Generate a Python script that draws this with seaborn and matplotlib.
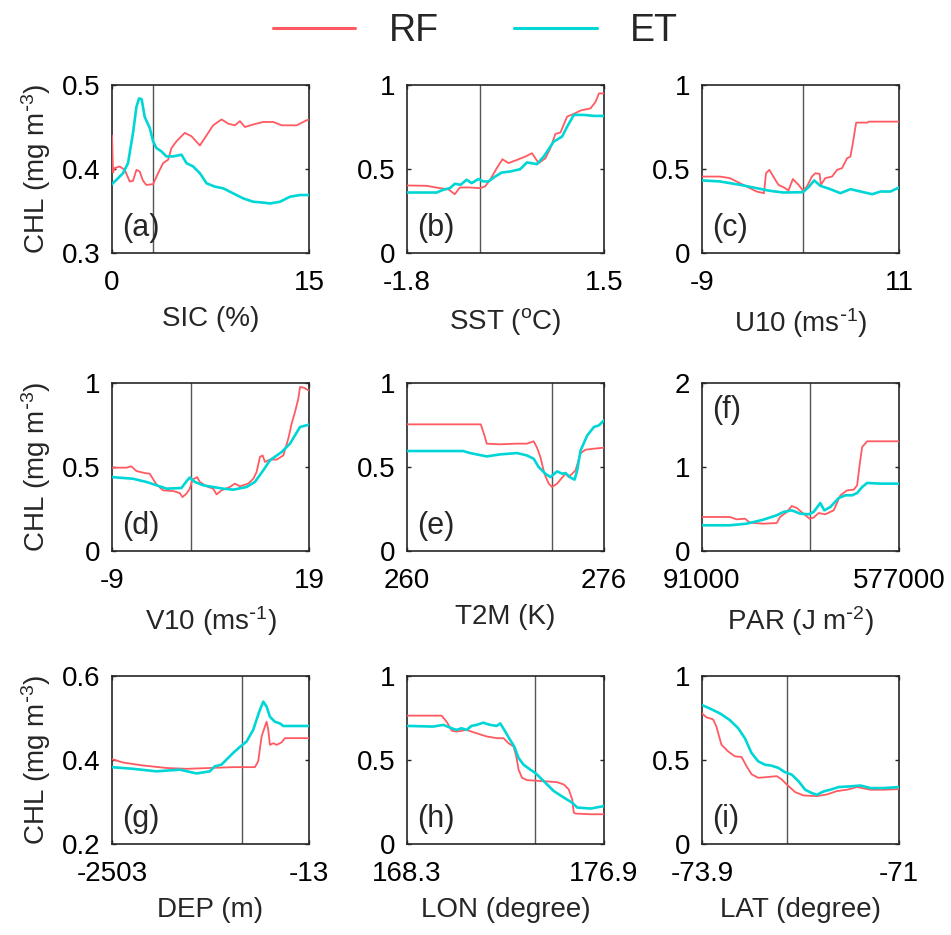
import numpy as np
import pandas as pd
import matplotlib
matplotlib.use("Agg")
import matplotlib.pyplot as plt
import seaborn as sns
from matplotlib.lines import Line2D

sns.set_theme(style="ticks")
plt.rcParams["font.family"] = ["Liberation Sans", "DejaVu Sans"]
plt.rcParams["mathtext.default"] = "regular"
plt.rcParams["axes.unicode_minus"] = False

RF_COLOR = "#ff5a62"
ET_COLOR = "#00d6d6"

# ---- partial dependence curves (feature value, CHL in mg m^-3) ----
sic_rf_x = [0.0, 0.08, 0.2, 0.58, 0.97, 1.35, 1.6, 1.86, 2.11, 2.36, 2.62, 3.13, 3.51, 3.89, 4.27, 4.53, 4.91,
            5.54, 6.05, 6.69, 7.2, 7.7, 8.34, 8.85, 9.36, 9.74, 10.12, 10.76, 11.52, 12.28, 12.92, 14.06, 14.82, 15.0]
sic_rf_y = [0.440, 0.396, 0.401, 0.403, 0.399, 0.385, 0.386, 0.399, 0.397, 0.386, 0.381, 0.382, 0.395, 0.407,
            0.411, 0.425, 0.433, 0.443, 0.439, 0.428, 0.440, 0.452, 0.459, 0.454, 0.452, 0.457, 0.450, 0.453,
            0.456, 0.456, 0.452, 0.452, 0.458, 0.459]
sic_et_x = [0.0, 0.33, 0.84, 1.22, 1.6, 1.86, 2.06, 2.26, 2.49, 2.87, 3.13, 3.38, 3.76, 4.14, 4.65, 5.29, 5.67,
            6.18, 6.69, 7.2, 7.83, 8.47, 9.23, 9.99, 10.76, 11.52, 12.03, 12.79, 13.55, 14.31, 15.0]
sic_et_y = [0.382, 0.387, 0.395, 0.407, 0.443, 0.474, 0.484, 0.483, 0.462, 0.449, 0.433, 0.425, 0.421, 0.415,
            0.415, 0.417, 0.407, 0.403, 0.395, 0.383, 0.379, 0.377, 0.371, 0.365, 0.361, 0.360, 0.359, 0.361,
            0.367, 0.369, 0.369]

sst_rf_x = [-1.8, -1.474, -1.25, -1.11, -1.0, -0.913, -0.745, -0.577, -0.492, -0.408, -0.296, -0.201, -0.10,
            0.041, 0.181, 0.293, 0.405, 0.518, 0.602, 0.686, 0.770, 0.882, 0.995, 1.107, 1.275, 1.359, 1.415, 1.5]
sst_rf_y = [0.402, 0.400, 0.386, 0.380, 0.350, 0.390, 0.390, 0.386, 0.396, 0.436, 0.505, 0.558, 0.535, 0.554,
            0.574, 0.594, 0.535, 0.564, 0.624, 0.709, 0.717, 0.812, 0.828, 0.848, 0.861, 0.900, 0.950, 0.950]
sst_et_x = [-1.8, -1.306, -1.194, -1.082, -0.998, -0.902, -0.801, -0.717, -0.605, -0.521, -0.436, -0.324,
            -0.212, -0.072, 0.097, 0.209, 0.377, 0.490, 0.658, 0.798, 0.882, 0.995, 1.163, 1.331, 1.5]
sst_et_y = [0.360, 0.360, 0.376, 0.386, 0.412, 0.406, 0.436, 0.416, 0.440, 0.426, 0.426, 0.455, 0.479, 0.485,
            0.499, 0.539, 0.529, 0.574, 0.663, 0.693, 0.752, 0.822, 0.822, 0.816, 0.816]

u10_rf_x = [-9.0, -7.2, -6.18, -5.16, -4.14, -3.46, -2.71, -2.50, -2.16, -1.76, -1.24, -0.56, -0.22, 0.22,
            0.80, 1.24, 1.65, 2.16, 2.50, 2.94, 3.07, 3.52, 4.20, 4.71, 5.22, 5.73, 6.07, 6.34, 6.65, 7.77,
            7.94, 11.0]
u10_rf_y = [0.455, 0.455, 0.446, 0.416, 0.386, 0.366, 0.356, 0.475, 0.495, 0.455, 0.406, 0.386, 0.372, 0.440,
            0.406, 0.372, 0.396, 0.455, 0.475, 0.471, 0.406, 0.446, 0.455, 0.495, 0.505, 0.564, 0.574, 0.663,
            0.776, 0.776, 0.782, 0.782]
u10_et_x = [-9.0, -7.2, -5.16, -3.46, -2.10, -0.73, 1.24, 1.82, 2.39, 3.01, 4.03, 5.05, 6.07, 7.09, 8.28,
            9.13, 10.15, 11.0]
u10_et_y = [0.432, 0.426, 0.406, 0.386, 0.370, 0.360, 0.362, 0.392, 0.432, 0.400, 0.380, 0.356, 0.380, 0.366,
            0.350, 0.366, 0.366, 0.390]

v10_rf_x = [-9.0, -6.96, -6.25, -5.54, -4.35, -3.64, -2.69, -1.74, -0.31, 0.63, 1.01, 1.58, 2.06, 2.44, 3.10,
            3.48, 4.43, 5.38, 5.86, 6.57, 7.75, 8.47, 9.18, 10.36, 11.08, 11.55, 12.03, 12.41, 12.74, 13.45,
            14.40, 15.35, 16.06, 16.53, 17.01, 17.48, 17.72, 18.29, 18.91, 19.0]
v10_rf_y = [0.496, 0.496, 0.504, 0.476, 0.464, 0.460, 0.397, 0.361, 0.357, 0.345, 0.321, 0.341, 0.371, 0.425,
            0.440, 0.411, 0.385, 0.371, 0.337, 0.361, 0.381, 0.401, 0.385, 0.401, 0.430, 0.470, 0.560, 0.569,
            0.530, 0.544, 0.544, 0.569, 0.669, 0.758, 0.827, 0.907, 0.976, 0.972, 0.956, 0.956]
v10_et_x = [-9.0, -6.01, -4.11, -2.21, -1.26, 0.87, 1.68, 2.06, 2.77, 3.96, 5.38, 6.80, 8.23, 10.13, 11.31,
            12.50, 13.45, 15.11, 16.30, 17.72, 19.0]
v10_et_y = [0.440, 0.430, 0.411, 0.385, 0.371, 0.375, 0.420, 0.437, 0.411, 0.391, 0.381, 0.371, 0.365, 0.381,
            0.411, 0.480, 0.540, 0.589, 0.639, 0.738, 0.752]

t2m_rf_x = [260.0, 265.99, 266.29, 266.48, 267.56, 268.93, 269.74, 270.29, 270.56, 270.83, 271.16, 271.51,
            271.78, 272.19, 272.60, 272.87, 273.14, 273.41, 273.69, 274.10, 274.50, 275.18, 276.0]
t2m_rf_y = [0.754, 0.754, 0.688, 0.639, 0.635, 0.639, 0.639, 0.653, 0.615, 0.560, 0.460, 0.401, 0.381, 0.401,
            0.437, 0.460, 0.440, 0.460, 0.480, 0.583, 0.603, 0.609, 0.615]
t2m_et_x = [260.0, 264.57, 265.12, 266.48, 267.56, 268.93, 269.74, 270.29, 270.69, 271.24, 271.65, 272.19,
            272.60, 272.87, 273.28, 273.61, 273.82, 274.10, 274.64, 275.18, 275.59, 276.0]
t2m_et_y = [0.595, 0.595, 0.583, 0.563, 0.575, 0.583, 0.569, 0.549, 0.500, 0.460, 0.440, 0.474, 0.460, 0.464,
            0.437, 0.425, 0.480, 0.599, 0.688, 0.738, 0.748, 0.778]

par_rf_x = [91000, 159600, 176100, 196800, 209200, 242300, 275300, 283600, 300100, 312500, 324900, 341400,
            356300, 366200, 378600, 395200, 415800, 432400, 448900, 465400, 473700, 480300, 486100, 498500,
            577000]
par_rf_y = [0.405, 0.405, 0.377, 0.385, 0.337, 0.325, 0.333, 0.405, 0.464, 0.536, 0.512, 0.444, 0.385, 0.397,
            0.452, 0.437, 0.484, 0.663, 0.722, 0.730, 0.782, 1.040, 1.238, 1.306, 1.306]
par_et_x = [91000, 159600, 200900, 242300, 275300, 291800, 312500, 333200, 353800, 366200, 382800, 392700,
            407600, 428200, 444700, 461300, 473700, 486100, 498500, 531500, 577000]
par_et_y = [0.306, 0.306, 0.325, 0.373, 0.425, 0.464, 0.484, 0.444, 0.437, 0.464, 0.571, 0.484, 0.524, 0.631,
            0.663, 0.663, 0.690, 0.762, 0.810, 0.802, 0.802]

dep_rf_x = [-2503, -2364, -2111, -1815, -1562, -1267, -971, -697, -655, -612, -570, -549, -528, -507, -465,
            -423, -359, -317, -13]
dep_rf_y = [0.402, 0.394, 0.387, 0.381, 0.379, 0.381, 0.383, 0.383, 0.397, 0.456, 0.480, 0.491, 0.472, 0.436,
            0.440, 0.436, 0.442, 0.452, 0.452]
dep_et_x = [-2503, -2237, -1942, -1646, -1435, -1267, -1203, -1119, -1056, -971, -887, -802, -718, -642, -591,
            -549, -507, -444, -380, -338, -13]
dep_et_y = [0.383, 0.379, 0.373, 0.377, 0.368, 0.373, 0.385, 0.389, 0.401, 0.417, 0.431, 0.444, 0.472, 0.515,
            0.539, 0.527, 0.503, 0.491, 0.487, 0.481, 0.481]

lon_rf_x = [168.3, 169.81, 170.03, 170.25, 170.46, 170.90, 171.34, 171.78, 172.22, 172.51, 172.73, 172.95,
            173.07, 173.17, 173.32, 173.54, 174.27, 174.85, 175.15, 175.36, 175.51, 175.58, 175.66, 176.32,
            176.9]
lon_rf_y = [0.764, 0.764, 0.728, 0.675, 0.669, 0.679, 0.659, 0.640, 0.630, 0.630, 0.600, 0.581, 0.522, 0.443,
            0.394, 0.380, 0.374, 0.368, 0.354, 0.325, 0.266, 0.187, 0.181, 0.177, 0.177]
lon_et_x = [168.3, 169.44, 169.88, 170.25, 170.46, 170.68, 170.90, 171.12, 171.34, 171.63, 171.93, 172.22,
            172.37, 172.59, 172.80, 172.98, 173.17, 173.39, 173.68, 173.90, 174.27, 174.71, 175.15, 175.51,
            175.73, 176.32, 176.9]
lon_et_y = [0.703, 0.699, 0.709, 0.689, 0.679, 0.689, 0.679, 0.703, 0.709, 0.722, 0.709, 0.703, 0.718, 0.669,
            0.620, 0.581, 0.512, 0.472, 0.443, 0.423, 0.374, 0.315, 0.276, 0.246, 0.217, 0.211, 0.226]

lat_rf_x = [-73.9, -73.836, -73.737, -73.688, -73.614, -73.515, -73.417, -73.318, -73.244, -73.170, -73.072,
            -72.948, -72.800, -72.726, -72.652, -72.529, -72.406, -72.209, -72.061, -71.913, -71.765, -71.617,
            -71.420, -71.222, -71.0]
lat_rf_y = [0.778, 0.754, 0.742, 0.699, 0.591, 0.551, 0.522, 0.518, 0.463, 0.415, 0.394, 0.398, 0.404, 0.384,
            0.354, 0.309, 0.289, 0.285, 0.295, 0.315, 0.323, 0.339, 0.323, 0.323, 0.327]
lat_et_x = [-73.9, -73.787, -73.639, -73.491, -73.367, -73.269, -73.170, -73.072, -72.973, -72.874, -72.776,
            -72.677, -72.579, -72.480, -72.381, -72.283, -72.209, -72.110, -72.011, -71.888, -71.716, -71.568,
            -71.420, -71.222, -71.0]
lat_et_y = [0.827, 0.807, 0.778, 0.738, 0.689, 0.630, 0.541, 0.492, 0.472, 0.466, 0.453, 0.427, 0.413, 0.374,
            0.323, 0.303, 0.293, 0.313, 0.323, 0.339, 0.343, 0.348, 0.333, 0.333, 0.339]

# ---- panel settings ----
panel_tags = ["(a)", "(b)", "(c)", "(d)", "(e)", "(f)", "(g)", "(h)", "(i)"]
x_labels = ["SIC (%)", "SST ($^{o}$C)", r"U10 (ms$^{\text{-}1}$)", r"V10 (ms$^{\text{-}1}$)", "T2M (K)",
            r"PAR (J m$^{\text{-}2}$)", "DEP (m)", "LON (degree)", "LAT (degree)"]
y_label = r"CHL (mg m$^{\text{-}3}$)"
x_limits = [(0, 15), (-1.8, 1.5), (-9, 11), (-9, 19), (260, 276), (91000, 577000),
            (-2503, -13), (168.3, 176.9), (-73.9, -71)]
x_tick_text = [("0", "15"), ("-1.8", "1.5"), ("-9", "11"), ("-9", "19"), ("260", "276"),
               ("91000", "577000"), ("-2503", "-13"), ("168.3", "176.9"), ("-73.9", "-71")]
y_ticks = [[0.3, 0.4, 0.5], [0, 0.5, 1], [0, 0.5, 1], [0, 0.5, 1], [0, 0.5, 1], [0, 1, 2],
           [0.2, 0.4, 0.6], [0, 0.5, 1], [0, 0.5, 1]]
y_tick_text = [["0.3", "0.4", "0.5"], ["0", "0.5", "1"], ["0", "0.5", "1"], ["0", "0.5", "1"],
               ["0", "0.5", "1"], ["0", "1", "2"], ["0.2", "0.4", "0.6"], ["0", "0.5", "1"],
               ["0", "0.5", "1"]]
mean_lines = [3.1, -0.57, 1.27, 2.2, 271.8, 357000, -857, 173.87, -72.65]

rf_series = [(sic_rf_x, sic_rf_y), (sst_rf_x, sst_rf_y), (u10_rf_x, u10_rf_y), (v10_rf_x, v10_rf_y),
             (t2m_rf_x, t2m_rf_y), (par_rf_x, par_rf_y), (dep_rf_x, dep_rf_y), (lon_rf_x, lon_rf_y),
             (lat_rf_x, lat_rf_y)]
et_series = [(sic_et_x, sic_et_y), (sst_et_x, sst_et_y), (u10_et_x, u10_et_y), (v10_et_x, v10_et_y),
             (t2m_et_x, t2m_et_y), (par_et_x, par_et_y), (dep_et_x, dep_et_y), (lon_et_x, lon_et_y),
             (lat_et_x, lat_et_y)]

W, H = 951, 935
fig = plt.figure(figsize=(W / 100, H / 100), dpi=100)

col_left = [112, 407, 702]
row_top = [85, 383, 676]
ax_w, ax_h = 197, 168

FS = 20
for i in range(9):
    r, c = divmod(i, 3)
    ax = fig.add_axes([col_left[c] / W, (H - row_top[r] - ax_h) / H, ax_w / W, ax_h / H])

    rx, ry = rf_series[i]
    ex, ey = et_series[i]
    sns.lineplot(x=rx, y=ry, ax=ax, color=RF_COLOR, lw=1.3, estimator=None, zorder=3)
    sns.lineplot(x=ex, y=ey, ax=ax, color=ET_COLOR, lw=1.9, estimator=None, zorder=4)
    ax.axvline(mean_lines[i], color="#555555", lw=1.0, zorder=2)

    ax.set_xlim(*x_limits[i])
    ax.set_ylim(y_ticks[i][0], y_ticks[i][-1])
    ax.set_xticks(list(x_limits[i]))
    ax.set_xticklabels(list(x_tick_text[i]))
    ax.set_yticks(y_ticks[i])
    ax.set_yticklabels(y_tick_text[i])
    ax.tick_params(direction="in", length=3, width=1, top=True, right=True,
                   labelsize=FS, colors="#262626", labelcolor="black")
    ax.tick_params(axis="x", pad=12.5)
    ax.tick_params(axis="y", pad=8.5)
    for sp in ax.spines.values():
        sp.set_linewidth(1.2)
        sp.set_color("#262626")
        sp.set_visible(True)

    ax.set_xlabel(x_labels[i], fontsize=FS, labelpad=7)
    if c == 0:
        ax.set_ylabel(y_label, fontsize=FS, labelpad=6)
    else:
        ax.set_ylabel("")

    if i == 5:
        ax.text(0.05, 0.93, panel_tags[i], transform=ax.transAxes, fontsize=22, va="top", ha="left")
    else:
        ax.text(0.05, 0.06, panel_tags[i], transform=ax.transAxes, fontsize=22, va="bottom", ha="left")

handles = [Line2D([], [], color=RF_COLOR, lw=2.2), Line2D([], [], color=ET_COLOR, lw=2.2)]
fig.legend(handles, ["RF", "ET"], loc="upper center", bbox_to_anchor=(0.5, 1.022), ncol=2,
           frameon=False, fontsize=27, handlelength=2.2, columnspacing=2.0, handletextpad=0.9)

fig.savefig("out.png", dpi=100, facecolor="white")
